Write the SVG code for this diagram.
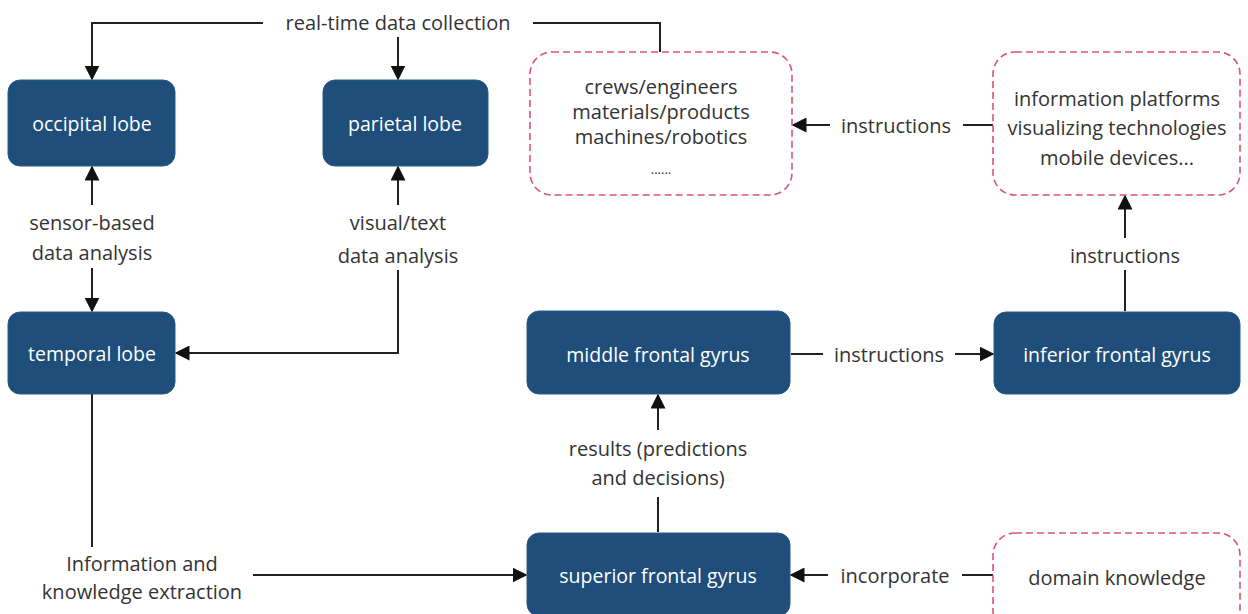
<svg xmlns="http://www.w3.org/2000/svg" width="1248" height="614" viewBox="0 0 1248 614">
  <defs>
    <marker id="arrow" viewBox="0 0 10 10" refX="9" refY="5" markerWidth="7.5" markerHeight="7.5" orient="auto-start-reverse" markerUnits="strokeWidth">
      <path d="M0,0 L10,5 L0,10 z" fill="#111"/>
    </marker>
    <style>
      .node rect { fill: #1f4e7a; stroke: #2b5a88; stroke-width: 1; }
      .node text { fill: #ffffff; font-family: "Open Sans", "Noto Sans", sans-serif; font-size: 19.5px; text-anchor: middle; dominant-baseline: central; }
      .box rect { fill: #ffffff; stroke: #d9566f; stroke-width: 1.6; stroke-dasharray: 7 4; }
      .box text, .label { fill: #333333; font-family: "Open Sans", "Noto Sans", sans-serif; font-size: 20px; text-anchor: middle; dominant-baseline: central; }
      .edge { fill: none; stroke: #222; stroke-width: 2; }
      .arr { marker-end: url(#arrow); }
    </style>
  </defs>
  <rect width="1248" height="614" fill="#ffffff"/>

  <!-- connectors -->
  <g id="connectors">
    <!-- real-time data collection -->
    <path class="edge arr" d="M263,23 H92 V79"/>
    <path class="edge arr" d="M398,37 V79"/>
    <path class="edge" d="M533,23 H660 V52"/>
    <!-- occipital / temporal -->
    <path class="edge arr" d="M92,205 V167"/>
    <path class="edge arr" d="M92,268 V311"/>
    <!-- parietal / temporal -->
    <path class="edge arr" d="M398,205 V167"/>
    <path class="edge arr" d="M398,270 V353 H176"/>
    <!-- temporal to superior -->
    <path class="edge" d="M92,394 V547"/>
    <path class="edge arr" d="M253,575 H526"/>
    <!-- superior to middle -->
    <path class="edge" d="M658,532 V497"/>
    <path class="edge arr" d="M658,430 V395"/>
    <!-- middle to inferior -->
    <path class="edge" d="M791,354 H823"/>
    <path class="edge arr" d="M955,354 H993"/>
    <!-- inferior up to platforms -->
    <path class="edge" d="M1125,311 V270"/>
    <path class="edge arr" d="M1125,238 V196"/>
    <!-- platforms to crews -->
    <path class="edge" d="M993,125 H963"/>
    <path class="edge arr" d="M830,125 H793"/>
    <!-- domain knowledge to superior -->
    <path class="edge" d="M993,575 H962"/>
    <path class="edge arr" d="M828,575 H791"/>
  </g>

  <!-- connector labels -->
  <g id="labels">
    <text class="label" x="398" y="22">real-time data collection</text>
    <text class="label" x="92" y="222">sensor-based</text>
    <text class="label" x="92" y="252">data analysis</text>
    <text class="label" x="398" y="222">visual/text</text>
    <text class="label" x="398" y="255">data analysis</text>
    <text class="label" x="142" y="563">Information and</text>
    <text class="label" x="142" y="591">knowledge extraction</text>
    <text class="label" x="658" y="448">results (predictions</text>
    <text class="label" x="658" y="477">and decisions)</text>
    <text class="label" x="889" y="354">instructions</text>
    <text class="label" x="1125" y="255">instructions</text>
    <text class="label" x="896" y="125">instructions</text>
    <text class="label" x="895" y="575">incorporate</text>
  </g>

  <!-- brain-region nodes -->
  <g id="occipital" class="node">
    <rect x="8" y="80" width="167" height="86" rx="12"/>
    <text x="92" y="123">occipital lobe</text>
  </g>
  <g id="parietal" class="node">
    <rect x="323" y="80" width="165" height="86" rx="12"/>
    <text x="405" y="123">parietal lobe</text>
  </g>
  <g id="temporal" class="node">
    <rect x="8" y="312" width="167" height="82" rx="12"/>
    <text x="92" y="353">temporal lobe</text>
  </g>
  <g id="middle" class="node">
    <rect x="527" y="311" width="263" height="83" rx="12"/>
    <text x="658" y="354">middle frontal gyrus</text>
  </g>
  <g id="inferior" class="node">
    <rect x="994" y="312" width="246" height="82" rx="12"/>
    <text x="1117" y="354">inferior frontal gyrus</text>
  </g>
  <g id="superior" class="node">
    <rect x="527" y="533" width="263" height="83" rx="12"/>
    <text x="658" y="575">superior frontal gyrus</text>
  </g>

  <!-- external entities -->
  <g id="crews" class="box">
    <rect x="530" y="52" width="262" height="143" rx="22"/>
    <text x="661" y="86">crews/engineers</text>
    <text x="661" y="111">materials/products</text>
    <text x="661" y="136">machines/robotics</text>
    <text x="661" y="169" style="font-size:13px">......</text>
  </g>
  <g id="platforms" class="box">
    <rect x="993" y="52" width="247" height="143" rx="22"/>
    <text x="1117" y="98">information platforms</text>
    <text x="1117" y="127">visualizing technologies</text>
    <text x="1117" y="157">mobile devices...</text>
  </g>
  <g id="domain" class="box">
    <rect x="993" y="533" width="247" height="100" rx="22"/>
    <text x="1117" y="577">domain knowledge</text>
  </g>
</svg>
